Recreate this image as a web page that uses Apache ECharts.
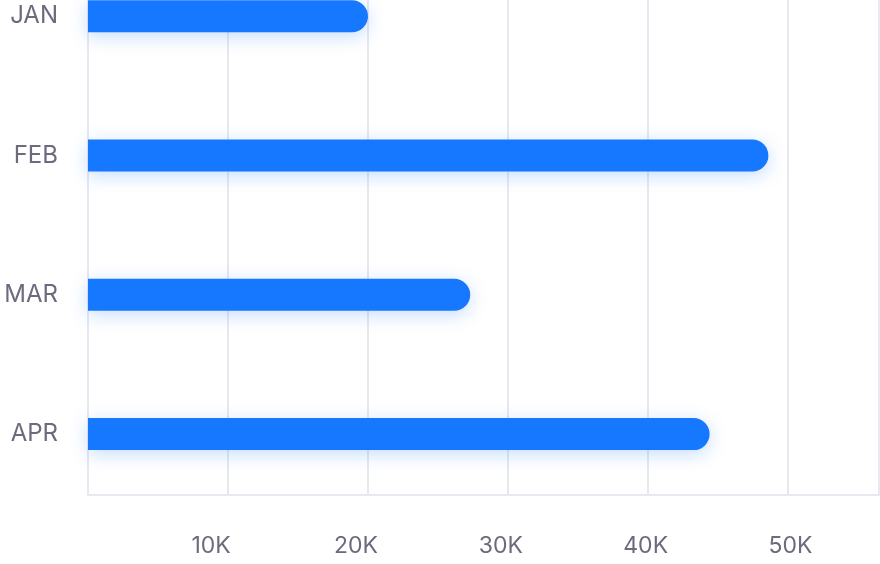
<!DOCTYPE html>
<html>
<head>
<meta charset="utf-8">
<script src="https://cdn.jsdelivr.net/npm/echarts@6/dist/echarts.min.js"></script>
<style>
html,body{margin:0;padding:0;background:#fff;overflow:hidden;width:880px;height:564px;position:relative;}
#chart{position:absolute;left:0;top:-60px;width:880px;height:624px;}
</style>
</head>
<body>
<div id="chart"></div>
<script>
const categories = ['JAN', 'FEB', 'MAR', 'APR'];
const values = [20000, 48600, 27300, 44400];
const tickValues = [10000, 20000, 30000, 40000, 50000];
const tickLabels = ['10K', '20K', '30K', '40K', '50K'];

const textColor = '#6c6b7d';
const lineColor = '#e8e8f1';
const fontFamily = 'Inter, "Noto Sans", sans-serif';
const shift = 60; // container is shifted up by this many px

const chart = echarts.init(document.getElementById('chart'), null, {renderer: 'canvas'});
chart.setOption({
  animation: false,
  backgroundColor: '#ffffff',
  grid: [
    // bars
    {left: 88, width: 791, top: shift - 53.45, height: 557.2},
    // gridlines and axis line
    {left: 88, width: 791, top: shift, height: 495},
    // tick labels
    {left: 66.25, width: 796.7, top: shift, height: 495}
  ],
  xAxis: [
    {gridIndex: 0, type: 'value', min: 0, max: 56500, show: false},
    {gridIndex: 1, type: 'value', min: 0, max: 56500, interval: 10000,
     axisLine: {show: true, lineStyle: {color: lineColor, width: 2}},
     axisTick: {show: false}, axisLabel: {show: false},
     splitLine: {show: true, lineStyle: {color: lineColor, width: 2}}},
    {gridIndex: 2, type: 'value', min: 0, max: 55000, interval: 10000,
     axisLine: {show: false}, axisTick: {show: false}, splitLine: {show: false},
     axisLabel: {
       show: true, margin: 40, fontSize: 23, color: textColor, fontFamily: fontFamily,
       showMaxLabel: false, showMinLabel: false,
       formatter: function (v) {
         const i = tickValues.indexOf(v);
         return i >= 0 ? tickLabels[i] : '';
       }
     }}
  ],
  yAxis: [
    {gridIndex: 0, type: 'category', inverse: true, data: categories,
     axisLine: {show: false}, axisTick: {show: false}, splitLine: {show: false},
     axisLabel: {margin: 30, fontSize: 24, color: textColor, fontFamily: fontFamily}},
    {gridIndex: 1, type: 'value', show: false},
    {gridIndex: 2, type: 'value', show: false}
  ],
  series: [{
    type: 'bar',
    xAxisIndex: 0, yAxisIndex: 0,
    data: values,
    barWidth: 32,
    z: 5,
    itemStyle: {
      color: '#1677ff',
      borderRadius: [0, 16, 16, 0],
      shadowColor: 'rgba(22,119,255,0.25)',
      shadowBlur: 18,
      shadowOffsetY: 4
    }
  }]
});
</script>
</body>
</html>
